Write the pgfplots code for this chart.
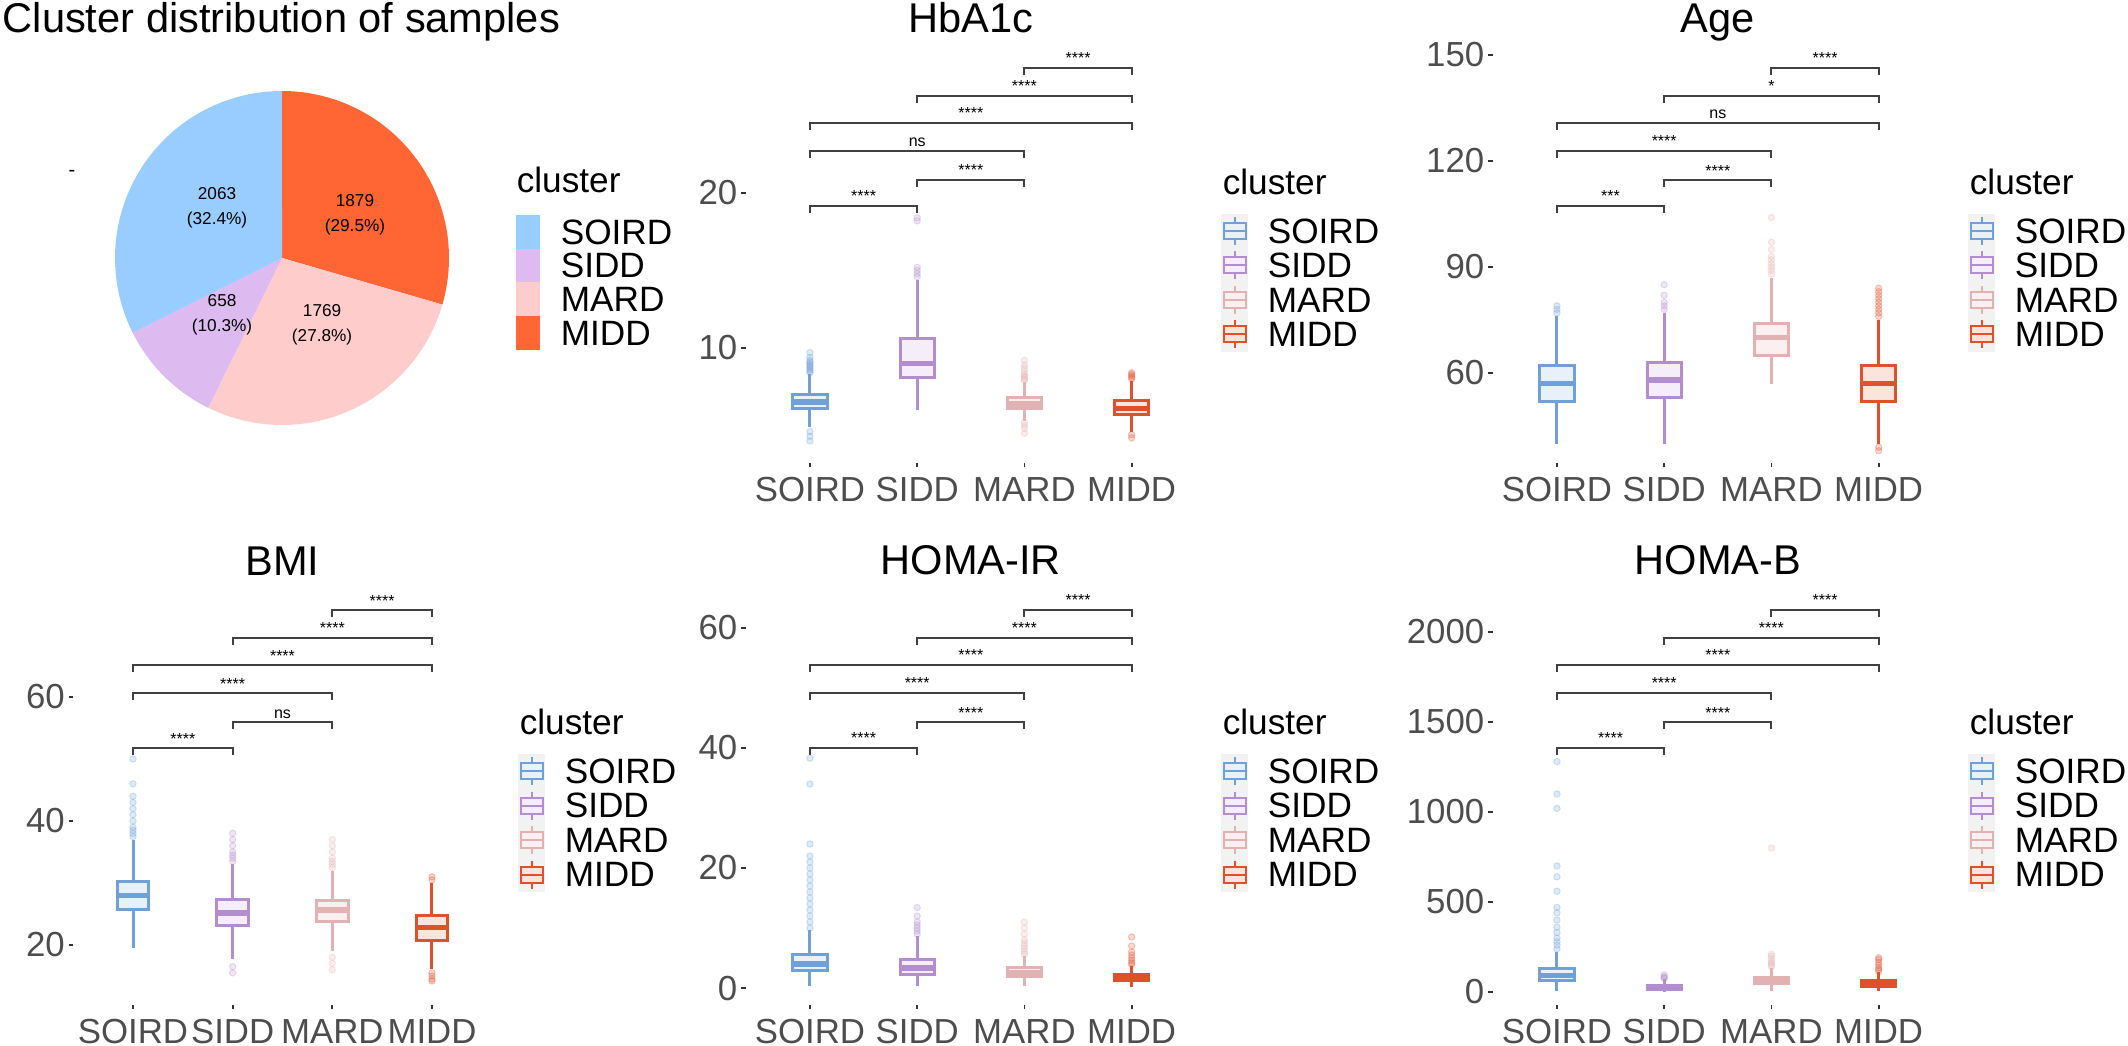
\documentclass[border=0pt]{standalone}
\usepackage{fontspec}
\setmainfont{Liberation Sans}
\usepackage{pgfplots}
\pgfplotsset{compat=1.18}
\usepgfplotslibrary{statistics}

\definecolor{soird}{RGB}{112,160,216}
\definecolor{soirdf}{RGB}{232,240,250}
\definecolor{sidd}{RGB}{178,142,206}
\definecolor{siddf}{RGB}{245,238,250}
\definecolor{mard}{RGB}{226,178,178}
\definecolor{mardf}{RGB}{251,239,239}
\definecolor{midd}{RGB}{221,82,44}
\definecolor{middf}{RGB}{250,228,220}
\definecolor{pieA}{RGB}{153,204,255}
\definecolor{pieB}{RGB}{221,187,240}
\definecolor{pieC}{RGB}{255,204,204}
\definecolor{pieD}{RGB}{255,102,51}
\definecolor{keybg}{RGB}{242,242,242}
\definecolor{ticktxt}{RGB}{77,77,77}
\definecolor{tickln}{RGB}{51,51,51}

\newcommand{\lgfont}{\fontsize{8.8}{10}\selectfont}
\newcommand{\sgfont}{\fontsize{4}{5}\selectfont}
\newcommand{\ttlfont}{\fontsize{10.4}{12}\selectfont}

\pgfplotsset{
  bx/.style={
    scale only axis, height=107pt, clip=false,
    xmin=0.4, xmax=4.6, xtick={1,2,3,4}, xticklabels={SOIRD,SIDD,MARD,MIDD},
    axis lines*=left, axis line style={draw=none},
    tick align=outside, major tick length=1.1pt,
    tick style={tickln, line width=0.45pt},
    tick label style={font=\fontsize{8.7}{10}\selectfont, text=ticktxt},
    xticklabel style={anchor=north, inner sep=0pt, yshift=-2.3pt},
    yticklabel style={anchor=east, inner sep=0pt, xshift=-0.8pt},
    every axis title/.style={font=\ttlfont, at={(0.5,1)}, anchor=base, yshift=0.5pt, inner sep=0pt},
    boxplot/draw direction=y,
    boxplot/box extend=0.32,
    boxplot/whisker extend=0,
    boxplot/every median/.style={line width=1.4pt},
  },
  cl/.style 2 args={draw=#1, fill=#2, line width=0.75pt, mark=*, mark size=0.8pt,
    mark options={draw=#1, draw opacity=0.3, line width=0.25pt, fill=#1, fill opacity=0.22}},
}

% significance bracket: x1, x2, xmid (rel axis), y (rel axis), label
\newcommand{\sig}[5]{%
  \draw[black!75, line width=0.5pt] ([yshift=-1.75pt]rel axis cs:#1,#4) -- (rel axis cs:#1,#4)
    -- (rel axis cs:#2,#4) -- ([yshift=-1.75pt]rel axis cs:#2,#4);
  \node[anchor=base, inner sep=0pt, font=\sgfont] at ([yshift=1pt]rel axis cs:#3,#4) {#5};}
\newcommand{\brackets}[6]{%
  \sig{0.14286}{0.38095}{0.2619}{0.6005}{#1}
  \sig{0.38095}{0.61905}{0.5}{0.6612}{#2}
  \sig{0.14286}{0.61905}{0.381}{0.729}{#3}
  \sig{0.14286}{0.85714}{0.5}{0.7944}{#4}
  \sig{0.38095}{0.85714}{0.619}{0.8586}{#5}
  \sig{0.61905}{0.85714}{0.7381}{0.9229}{#6}}

% legend glyph rows, in pixel units inside a scope
\newcommand{\glyph}[3]{% colour, fill, row top
  \draw[#1, line width=0.5pt] (13,#3+3) -- (13,#3+31);
  \filldraw[draw=#1, fill=#2, line width=0.5pt] (2,#3+9) rectangle (24,#3+25);
  \draw[#1, line width=0.5pt] (2,#3+17) -- (24,#3+17);}
\newcommand{\boxlegend}[2]{%
  \begin{scope}[shift={({#1*0.25pt},{-#2*0.25pt})}, x=0.25pt, y=-0.25pt]
    \node[anchor=west, inner sep=0pt, font=\lgfont] at (0,0) {cluster};
    \fill[keybg] (-1,32) rectangle (26,170);
    \glyph{soird}{soirdf}{32}
    \glyph{sidd}{siddf}{66.5}
    \glyph{mard}{mardf}{101}
    \glyph{midd}{middf}{135.5}
    \node[anchor=west, inner sep=0pt, font=\lgfont] at (45,49) {SOIRD};
    \node[anchor=west, inner sep=0pt, font=\lgfont] at (45,83.5) {SIDD};
    \node[anchor=west, inner sep=0pt, font=\lgfont] at (45,118) {MARD};
    \node[anchor=west, inner sep=0pt, font=\lgfont] at (45,152.5) {MIDD};
  \end{scope}}

\begin{document}
\begin{tikzpicture}
\path[use as bounding box] (0,0) rectangle (532pt,-261.5pt);

% ---------------- pie ----------------
\node[anchor=base west, inner sep=0pt, font=\ttlfont] at (0.5pt,-8.25pt) {Cluster distribution of samples};
\node[inner sep=0pt, font=\fontsize{5}{6}\selectfont] at (18pt,-43.25pt) {-};
% counts: SOIRD 2063, SIDD 658, MARD 1769, MIDD 1879 (total 6369)
\begin{axis}[at={(70.5pt,-64.5pt)}, anchor=center, scale only axis, width=83.5pt, height=83.5pt,
  xmin=-1, xmax=1, ymin=-1, ymax=1, hide axis, clip=false]
\addplot[draw=none, fill=pieD, domain=0:106.21, samples=60] ({sin(x)},{cos(x)}) -- (axis cs:0,0) -- cycle;
\addplot[draw=none, fill=pieC, domain=106.21:206.20, samples=60] ({sin(x)},{cos(x)}) -- (axis cs:0,0) -- cycle;
\addplot[draw=none, fill=pieB, domain=206.20:243.39, samples=30] ({sin(x)},{cos(x)}) -- (axis cs:0,0) -- cycle;
\addplot[draw=none, fill=pieA, domain=243.39:360, samples=60] ({sin(x)},{cos(x)}) -- (axis cs:0,0) -- cycle;
\node[align=center, inner sep=0pt, font=\fontsize{4.3}{6.2}\selectfont] at (axis cs:-0.389,0.299) {2063\\(32.4\%)};
\node[align=center, inner sep=0pt, font=\fontsize{4.3}{6.2}\selectfont] at (axis cs:0.437,0.257) {1879\\(29.5\%)};
\node[align=center, inner sep=0pt, font=\fontsize{4.3}{6.2}\selectfont] at (axis cs:-0.359,-0.341) {658\\(10.3\%)};
\node[align=center, inner sep=0pt, font=\fontsize{4.3}{6.2}\selectfont] at (axis cs:0.24,-0.40) {1769\\(27.8\%)};
\end{axis}
\begin{scope}[shift={(129pt,-45pt)}, x=0.25pt, y=-0.25pt]
  \node[anchor=west, inner sep=0pt, font=\lgfont] at (0,0) {cluster};
  \fill[pieA] (0,35) rectangle (24,68.75);
  \fill[pieB] (0,68.75) rectangle (24,102.5);
  \fill[pieC] (0,102.5) rectangle (24,136.25);
  \fill[pieD] (0,136.25) rectangle (24,170);
  \node[anchor=west, inner sep=0pt, font=\lgfont] at (44,52) {SOIRD};
  \node[anchor=west, inner sep=0pt, font=\lgfont] at (44,85.6) {SIDD};
  \node[anchor=west, inner sep=0pt, font=\lgfont] at (44,119.4) {MARD};
  \node[anchor=west, inner sep=0pt, font=\lgfont] at (44,153) {MIDD};
\end{scope}

% ---------------- HbA1c ----------------
\begin{axis}[bx, at={(186.4pt,-115.75pt)}, anchor=south west, width=112.6pt,
  ymin=2.58, ymax=30.19, ytick={10,20}, yticklabels={10,20}, title={HbA1c}]
\addplot[cl={soird}{soirdf}, boxplot prepared={draw position=1, lower whisker=4.9, lower quartile=6.1, median=6.5, upper quartile=7.0, upper whisker=8.3}]
  table[row sep=\\, y index=0] {v\\8.4\\8.5\\8.6\\8.7\\8.8\\8.9\\9.0\\9.1\\9.2\\9.4\\9.7\\4.6\\4.3\\4.0\\};
\addplot[cl={sidd}{siddf}, boxplot prepared={draw position=2, lower whisker=6.0, lower quartile=8.1, median=9.0, upper quartile=10.6, upper whisker=14.4}]
  table[row sep=\\, y index=0] {v\\14.6\\14.8\\15.0\\15.2\\18.2\\18.4\\};
\addplot[cl={mard}{mardf}, boxplot prepared={draw position=3, lower whisker=5.3, lower quartile=6.1, median=6.4, upper quartile=6.8, upper whisker=7.8}]
  table[row sep=\\, y index=0] {v\\7.9\\8.0\\8.1\\8.2\\8.3\\8.5\\8.7\\8.9\\9.2\\5.2\\5.0\\4.8\\4.5\\};
\addplot[cl={midd}{middf}, boxplot prepared={draw position=4, lower whisker=4.6, lower quartile=5.7, median=6.1, upper quartile=6.6, upper whisker=7.9}]
  table[row sep=\\, y index=0] {v\\8.0\\8.1\\8.2\\8.3\\8.4\\4.4\\4.2\\};
\brackets{****}{****}{ns}{****}{****}{****}
\end{axis}
\boxlegend{1222}{182}

% ---------------- Age ----------------
\begin{axis}[bx, at={(373.15pt,-115.75pt)}, anchor=south west, width=112.6pt,
  ymin=34.52, ymax=155.66, ytick={60,90,120,150}, yticklabels={60,90,120,150}, title={Age}]
\addplot[cl={soird}{soirdf}, boxplot prepared={draw position=1, lower whisker=40, lower quartile=52, median=57, upper quartile=62, upper whisker=76}]
  table[row sep=\\, y index=0] {v\\77\\78\\79\\};
\addplot[cl={sidd}{siddf}, boxplot prepared={draw position=2, lower whisker=40, lower quartile=53, median=58, upper quartile=63, upper whisker=77}]
  table[row sep=\\, y index=0] {v\\78\\79\\80\\82\\85\\};
\addplot[cl={mard}{mardf}, boxplot prepared={draw position=3, lower whisker=57, lower quartile=65, median=70, upper quartile=74, upper whisker=87}]
  table[row sep=\\, y index=0] {v\\88\\89\\90\\91\\92\\93\\95\\97\\104\\};
\addplot[cl={midd}{middf}, boxplot prepared={draw position=4, lower whisker=40, lower quartile=52, median=57, upper quartile=62, upper whisker=75}]
  table[row sep=\\, y index=0] {v\\76\\77\\78\\79\\80\\81\\82\\83\\84\\38\\39\\};
\brackets{***}{****}{****}{ns}{*}{****}
\end{axis}
\boxlegend{1969}{182}

% ---------------- BMI ----------------
\begin{axis}[bx, at={(18.3pt,-251.25pt)}, anchor=south west, width=104.65pt,
  ymin=10.32, ymax=79.35, ytick={20,40,60}, yticklabels={20,40,60}, title={BMI}]
\addplot[cl={soird}{soirdf}, boxplot prepared={draw position=1, lower whisker=19.5, lower quartile=25.8, median=28, upper quartile=30.3, upper whisker=37}]
  table[row sep=\\, y index=0] {v\\37.5\\38\\38.5\\39\\40\\41\\42\\43\\44\\46\\50\\};
\addplot[cl={sidd}{siddf}, boxplot prepared={draw position=2, lower whisker=17.8, lower quartile=23.2, median=25.2, upper quartile=27.3, upper whisker=33}]
  table[row sep=\\, y index=0] {v\\33.5\\34\\34.5\\35\\36\\37\\38\\16.5\\15.5\\};
\addplot[cl={mard}{mardf}, boxplot prepared={draw position=3, lower whisker=19, lower quartile=23.8, median=25.6, upper quartile=27.2, upper whisker=32}]
  table[row sep=\\, y index=0] {v\\32.5\\33\\33.5\\34\\35\\36\\37\\18\\17\\16\\};
\addplot[cl={midd}{middf}, boxplot prepared={draw position=4, lower whisker=16.2, lower quartile=20.8, median=22.8, upper quartile=24.8, upper whisker=30}]
  table[row sep=\\, y index=0] {v\\30.5\\31\\15.5\\15\\14.5\\14.2\\};
\brackets{****}{ns}{****}{****}{****}{****}
\end{axis}
\boxlegend{519}{722}

% ---------------- HOMA-IR ----------------
\begin{axis}[bx, at={(186.4pt,-251.25pt)}, anchor=south west, width=112.6pt,
  ymin=-2.83, ymax=68.5, ytick={0,20,40,60}, yticklabels={0,20,40,60}, title={HOMA-IR}]
\addplot[cl={soird}{soirdf}, boxplot prepared={draw position=1, lower whisker=0.4, lower quartile=2.9, median=4.0, upper quartile=5.6, upper whisker=9.6}]
  table[row sep=\\, y index=0] {v\\10\\11\\12\\13\\14\\15\\16\\17\\18\\19\\20\\21\\22\\24\\34\\38.3\\};
\addplot[cl={sidd}{siddf}, boxplot prepared={draw position=2, lower whisker=0.3, lower quartile=2.2, median=3.3, upper quartile=4.8, upper whisker=8.6}]
  table[row sep=\\, y index=0] {v\\9\\9.5\\10\\10.5\\11\\12\\13.4\\};
\addplot[cl={mard}{mardf}, boxplot prepared={draw position=3, lower whisker=0.3, lower quartile=2.0, median=2.6, upper quartile=3.4, upper whisker=5.4}]
  table[row sep=\\, y index=0] {v\\5.6\\6\\6.5\\7\\7.5\\8\\9\\10\\11\\};
\addplot[cl={midd}{middf}, boxplot prepared={draw position=4, lower whisker=0.2, lower quartile=1.2, median=1.7, upper quartile=2.2, upper whisker=3.7}]
  table[row sep=\\, y index=0] {v\\3.9\\4.2\\4.6\\5\\5.5\\6\\7\\8.5\\};
\brackets{****}{****}{****}{****}{****}{****}
\end{axis}
\boxlegend{1222}{722}

% ---------------- HOMA-B ----------------
\begin{axis}[bx, at={(373.15pt,-251.25pt)}, anchor=south west, width=112.6pt,
  ymin=-72.2, ymax=2305.6, ytick={0,500,1000,1500,2000}, yticklabels={0,500,1000,1500,2000}, title={HOMA-B}]
\addplot[cl={soird}{soirdf}, boxplot prepared={draw position=1, lower whisker=5, lower quartile=65, median=92, upper quartile=130, upper whisker=225}]
  table[row sep=\\, y index=0] {v\\240\\260\\280\\300\\330\\360\\400\\440\\470\\560\\640\\700\\1020\\1100\\1280\\};
\addplot[cl={sidd}{siddf}, boxplot prepared={draw position=2, lower whisker=2, lower quartile=15, median=25, upper quartile=38, upper whisker=72}]
  table[row sep=\\, y index=0] {v\\75\\80\\85\\95\\};
\addplot[cl={mard}{mardf}, boxplot prepared={draw position=3, lower whisker=8, lower quartile=45, median=60, upper quartile=82, upper whisker=135}]
  table[row sep=\\, y index=0] {v\\140\\150\\160\\170\\185\\200\\210\\800\\};
\addplot[cl={midd}{middf}, boxplot prepared={draw position=4, lower whisker=3, lower quartile=30, median=45, upper quartile=62, upper whisker=110}]
  table[row sep=\\, y index=0] {v\\115\\125\\135\\150\\165\\180\\190\\};
\brackets{****}{****}{****}{****}{****}{****}
\end{axis}
\boxlegend{1969}{722}
\end{tikzpicture}
\end{document}
